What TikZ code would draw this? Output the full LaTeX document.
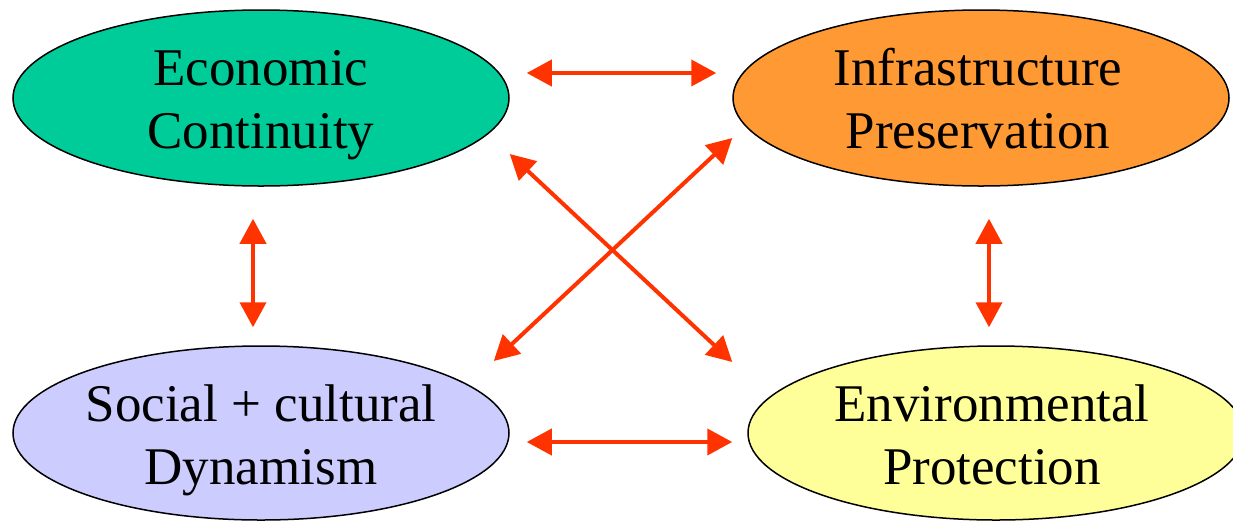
\documentclass[tikz,border=0pt]{standalone}
\usepackage{fontspec}
\setmainfont{Liberation Serif}
\usetikzlibrary{shapes.geometric,arrows.meta}
\definecolor{ecogreen}{HTML}{00CC99}
\definecolor{infoorange}{HTML}{FF9933}
\definecolor{soclav}{HTML}{CCCCFF}
\definecolor{envyellow}{HTML}{FFFF99}
\definecolor{arrred}{HTML}{FF3300}
\tikzset{
  bubble/.style={ellipse, draw=black, line width=1.5pt, inner sep=0pt, minimum width=496pt},
  bubbletext/.style={anchor=base, inner sep=0pt, font=\fontsize{53}{63}\selectfont},
  link/.style={draw=arrred, line width=4pt, {Triangle[length=25pt,width=26pt]}-{Triangle[length=25pt,width=26pt]}},
}
\newcommand{\twolines}[2]{\begin{tabular}[t]{@{}c@{}}#1\\#2\end{tabular}}
\begin{document}
\begin{tikzpicture}[x=1pt,y=-1pt]
\useasboundingbox (0,0) rectangle (1233,520);
% ellipses
\node[bubble, fill=ecogreen,  minimum height=176pt] (eco) at (261,98) {};
\node[bubble, fill=infoorange, minimum height=176pt] (inf) at (981,98) {};
\node[bubble, fill=soclav,    minimum height=174pt] (soc) at (261,433) {};
\node[bubble, fill=envyellow, minimum height=174pt] (env) at (996,433) {};
% texts
\node[bubbletext] (ecoT) at (261,85) {\twolines{Economic}{Continuity}};
\node[bubbletext] (infT) at (978,85) {\twolines{Infrastructure}{Preservation}};
\node[bubbletext] (socT) at (261,421) {\twolines{Social + cultural}{Dynamism}};
\node[bubbletext] (envT) at (992,421) {\twolines{Environmental}{Protection}};
% connectors
\draw[link] ([shift={(17,-25)}]eco.east) -- ([shift={(-16,-25)}]inf.west);
\draw[link] ([shift={(17,9)}]soc.east) -- ([shift={(-15,9)}]env.west);
\draw[link] ([shift={(-8,32)}]eco.south) -- ([shift={(-8,-18)}]soc.north);
\draw[link] ([shift={(8,32)}]inf.south) -- ([shift={(-7,-18)}]env.north);
\draw[link] ([shift={(0,56)}]eco.east) -- ([shift={(-15,-71)}]env.west);
\draw[link] ([shift={(0,40)}]inf.west) -- ([shift={(-16,-72)}]soc.east);
\end{tikzpicture}
\end{document}
